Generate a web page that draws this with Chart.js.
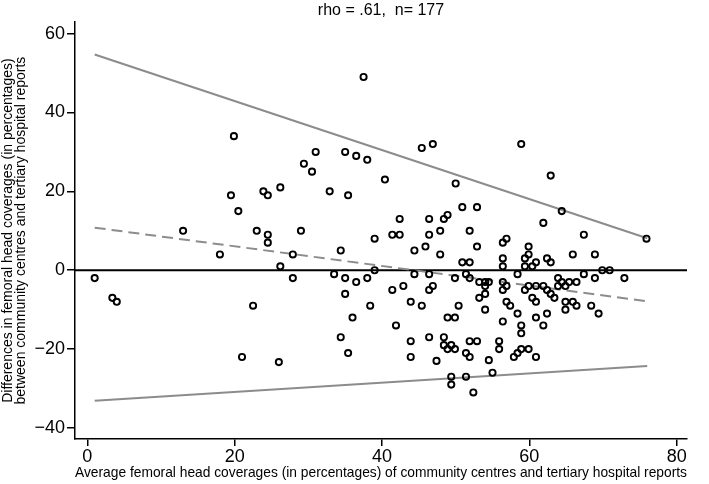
<!DOCTYPE html>
<html>
<head>
<meta charset="utf-8">
<title>Bland-Altman plot</title>
<script src="https://cdn.jsdelivr.net/npm/chart.js@4.4.0/dist/chart.umd.min.js"></script>
<style>
  html, body { margin: 0; padding: 0; background: #fff; }
</style>
</head>
<body>
<canvas id="myChart" width="709" height="484"></canvas>
<script>
// chart values

// average coverage (x) and difference (y) for each hip
const avgCoverage = [
  19.9, 19.5, 23.9, 24.5, 20.5, 26.2, 13.0, 23.0, 24.5,
  37.5, 45.4, 46.9, 31.0, 35.0, 36.5, 38.0, 29.4, 30.5, 40.4, 50.0, 32.9, 35.4, 50.9, 52.9,
  42.4, 46.4, 48.4, 48.9, 29.0, 39.0, 41.4, 42.4, 46.4, 47.9, 51.9,
  58.9, 62.9, 64.4, 61.9, 67.4, 75.9, 56.9,
  1.0, 3.4, 4.0, 24.5, 18.0, 22.5, 21.0, 26.0, 26.2,
  52.9, 34.4, 44.4, 45.9, 47.9, 27.9, 50.9, 51.9, 39.0, 33.5, 44.4, 46.4, 51.4, 27.9, 35.0,
  38.0, 49.9, 51.9, 36.5, 53.2, 42.9, 46.9, 41.4, 46.4, 35.0, 53.2, 43.9, 38.4, 45.4, 50.4,
  36.0, 48.9, 49.9, 41.9, 34.4, 43.9, 46.4, 48.4, 48.4, 48.9, 49.4, 49.9, 51.9, 52.9, 51.4,
  51.9, 35.4, 43.9, 47.4, 49.4, 49.4, 51.4, 52.4,
  56.4, 59.9, 56.4, 56.4, 59.4, 59.9, 59.4, 60.4, 60.9, 62.4, 62.9, 65.9, 68.9, 58.4, 67.4,
  69.9, 70.9, 54.0, 54.5, 54.0, 54.0, 54.0, 56.4, 56.4, 56.9, 56.9, 57.4, 58.4, 56.4, 58.9,
  58.9, 59.4, 59.9, 60.9, 61.9, 60.4, 60.9, 62.4, 62.9, 63.4, 63.9, 63.9, 64.4, 64.9, 65.4,
  66.4, 68.9, 72.9, 64.9, 64.9, 65.9, 66.4, 68.4, 69.4, 62.4, 60.9, 61.9, 55.9, 55.9, 57.9,
  58.4, 58.9, 59.9, 60.9, 54.5, 55.0
];
const diffCoverage = [
  34, 19, 20, 19, 15, 21, 10, 10, 9,
  49, 31, 32, 30, 30, 29, 28, 27, 25, 23, 22, 20, 19, 16, 16,
  13, 13, 13, 14, 10, 8, 9, 9, 9, 10, 10,
  32, 24, 15, 12, 9, 8, 8,
  -2, -7, -8, 7, 4, -9, -22, -23.3, 1,
  6, 5, 5, 6, 4, 4, 2, 2, 0, -1, -1, -1, -1, -2, -2,
  -2, -2, -2, -3, -3, -4, -4, -5, -5, -6, -7, -8, -9, -9, -9,
  -12, -12, -12, -14, -17, -18, -17, -17, -19, -20, -19, -20, -18, -18, -21,
  -22, -21, -22, -23, -27, -29, -27, -31,
  7, 6, 3, 1, 3, 4, 1, 1, 2, 3, 2, 4, 4, -1, -1,
  0, 0, -3, -3, -4, -6, -10, -3, -5, -4, -8, -9, -11, -13, -14,
  -16, -5, -4, -4, -4, -7, -8, -5, -6, -7, -2, -4, -3, -4, -3,
  -3, -2, -2, -8, -10, -8, -9, -9, -11, -11, -12, -14, -18, -20, -22,
  -21, -20, -20, -22, -22.8, -26
];

// regression lines (start and end of each)
const fitX = [1, 76];
const upperLimit = [54.7, 8.1];
const meanDiff = [10.8, -7.9];
const lowerLimit = [-33.1, -24.3];

// axes
const xTicks = [0, 20, 40, 60, 80];
const yTicks = [-40, -20, 0, 20, 40, 60];
const xRange = [-1.67, 81.4];
const yRange = [-42.8, 62.9];

const toPoints = (xs, ys) => xs.map((x, i) => ({ x: x, y: ys[i] }));

const grey = 'rgb(140, 140, 140)';
const tickFont = { family: '"Liberation Sans", Arial, sans-serif', size: 18 };
const titleFont = { family: '"Liberation Sans", Arial, sans-serif', size: 14 };

const data = {
  datasets: [
    {
      label: 'Hips',
      type: 'scatter',
      data: toPoints(avgCoverage, diffCoverage),
      pointStyle: 'circle',
      pointRadius: 3.1,
      pointBorderWidth: 1.9,
      borderColor: '#000',
      backgroundColor: 'rgba(0,0,0,0)',
    },
    {
      label: 'Upper limit',
      type: 'line',
      data: toPoints(fitX, upperLimit),
      borderColor: grey,
      borderWidth: 2,
      pointRadius: 0,
    },
    {
      label: 'Mean difference',
      type: 'line',
      data: toPoints(fitX, meanDiff),
      borderColor: grey,
      borderWidth: 2,
      borderDash: [11, 6],
      pointRadius: 0,
    },
    {
      label: 'Lower limit',
      type: 'line',
      data: toPoints(fitX, lowerLimit),
      borderColor: grey,
      borderWidth: 2,
      pointRadius: 0,
    },
    {
      label: 'Zero',
      type: 'line',
      data: toPoints(xRange, [0, 0]),
      borderColor: '#000',
      borderWidth: 2,
      pointRadius: 0,
    }
  ]
};

const config = {
  type: 'scatter',
  data: data,
  options: {
    responsive: false,
    animation: false,
    layout: { padding: { left: 0, right: 22, top: 0, bottom: 0 } },
    plugins: {
      legend: { display: false },
      tooltip: { enabled: false },
      title: {
        display: true,
        fullSize: false,
        text: 'rho = .61,  n= 177',
        color: '#000',
        font: { family: '"Liberation Sans", Arial, sans-serif', size: 16, weight: 'normal' },
        padding: { top: 1, bottom: 2 }
      }
    },
    scales: {
      x: {
        type: 'linear',
        min: xRange[0],
        max: xRange[1],
        afterBuildTicks: (scale) => { scale.ticks = xTicks.map(v => ({ value: v })) },
        afterFit: (scale) => { scale.height = 45 },
        grid: { drawOnChartArea: false, drawTicks: true, tickLength: 7, color: '#000', lineWidth: 1.5 },
        border: { display: true, color: '#000', width: 1.5 },
        ticks: { color: '#000', font: tickFont, padding: 0, maxRotation: 0 },
        title: {
          display: true,
          text: 'Average femoral head coverages (in percentages) of community centres and tertiary hospital reports',
          color: '#000',
          font: Object.assign({}, titleFont, { size: 14.5 }),
          padding: { top: 0, bottom: 2 }
        }
      },
      y: {
        type: 'linear',
        min: yRange[0],
        max: yRange[1],
        afterBuildTicks: (scale) => { scale.ticks = yTicks.map(v => ({ value: v })) },
        afterFit: (scale) => { scale.width = 75 },
        grid: { drawOnChartArea: false, drawTicks: true, tickLength: 8, color: '#000', lineWidth: 1.5 },
        border: { display: true, color: '#000', width: 1.5 },
        ticks: {
          color: '#000',
          font: tickFont,
          padding: 2,
          // typographic minus like the original
          callback: (v) => String(v).replace('-', '\u2212')
        },
        title: {
          display: true,
          text: ['Differences in femoral head coverages (in percentages)',
                 'between community centres and tertiary hospital reports'],
          color: '#000',
          font: Object.assign({}, titleFont, { lineHeight: 0.95 }),
          padding: { top: 1, bottom: 0 }
        }
      }
    }
  }
};

const myChart = new Chart(document.getElementById('myChart'), config);
</script>
</body>
</html>
